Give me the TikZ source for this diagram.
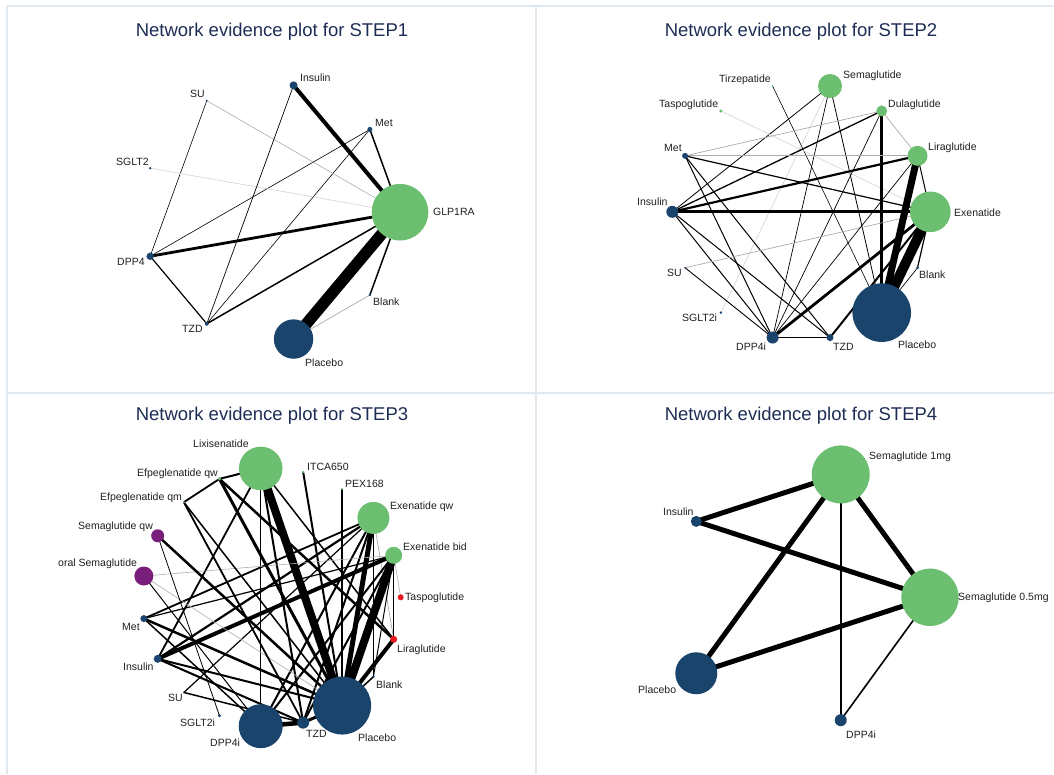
\documentclass[tikz,border=0pt]{standalone}
\usepackage{fontspec}
\setmainfont{Liberation Sans}
\pgfdeclarelayer{bg}
\pgfsetlayers{bg,main}
\definecolor{gr}{RGB}{108,190,112}
\definecolor{nv}{RGB}{27,68,108}
\definecolor{pu}{RGB}{122,30,124}
\definecolor{rd}{RGB}{232,26,30}
\definecolor{ttl}{RGB}{30,45,85}
\definecolor{frm}{RGB}{225,233,238}
\begin{document}
\begin{tikzpicture}[x=1pt,y=-1pt,
 gn/.style={circle,inner sep=0pt,fill=gr,minimum size=#1},
 bn/.style={circle,inner sep=0pt,fill=nv,minimum size=#1},
 pn/.style={circle,inner sep=0pt,fill=pu,minimum size=#1},
 rn/.style={circle,inner sep=0pt,fill=rd,minimum size=#1},
 lab/.style={font=\fontsize{10.5}{12}\selectfont,inner sep=0pt,anchor=base west,text=black!88},
 ttlstyle/.style={font=\fontsize{18.5}{22}\selectfont,text=ttl,inner sep=0pt},
 ew/.style={line width=#1pt,draw=black},
 gw/.style={line width=#1pt,draw=gray!65},
 lw/.style={line width=#1pt,draw=gray!35},
 framel/.style={draw=frm,line width=1.5pt}]
\useasboundingbox (0,0) rectangle (1054,774);
% frame
\draw[framel] (7,774) -- (7,6) -- (1054,6);
\draw[framel] (536,6) -- (536,774);
\draw[framel] (7,393) -- (1054,393);
% titles
\node[ttlstyle] (t1) at (272,32) {Network evidence plot for STEP1};
\node[ttlstyle] (t2) at (801,32) {Network evidence plot for STEP2};
\node[ttlstyle] (t3) at (272,416) {Network evidence plot for STEP3};
\node[ttlstyle] (t4) at (801,416) {Network evidence plot for STEP4};

%================ STEP1
\begin{scope}[shift={(271.2,212.2)}]
\node[gn=56.6pt] (p1glp) at (0:128.8) {};
\node[bn=2.6pt] (p1bla) at (40:128.8) {};
\node[bn=39.4pt] (p1pla) at (80:128.8) {};
\node[bn=4pt] (p1tzd) at (120:128.8) {};
\node[bn=7.4pt] (p1dpp) at (160:128.8) {};
\node[bn=2.6pt] (p1sgl) at (200:128.8) {};
\node[bn=2pt] (p1su) at (240:128.8) {};
\node[bn=8pt] (p1ins) at (280:128.8) {};
\node[bn=5pt] (p1met) at (320:128.8) {};
\end{scope}
\begin{pgfonlayer}{bg}
\draw[ew=4] (p1ins.center) -- (p1glp.center);
\draw[ew=1.5] (p1met.center) -- (p1glp.center);
\draw[ew=0.6] (p1met.center) -- (p1dpp.center);
\draw[ew=0.6] (p1met.center) -- (p1tzd.center);
\draw[ew=0.6] (p1su.center) -- (p1dpp.center);
\draw[gw=0.6] (p1su.center) -- (p1glp.center);
\draw[lw=0.6] (p1sgl.center) -- (p1glp.center);
\draw[ew=0.7] (p1ins.center) -- (p1tzd.center);
\draw[ew=2.8] (p1dpp.center) -- (p1glp.center);
\draw[ew=1.2] (p1dpp.center) -- (p1tzd.center);
\draw[ew=1.5] (p1tzd.center) -- (p1glp.center);
\draw[ew=11.5] (p1pla.center) -- (p1glp.center);
\draw[ew=1.5] (p1bla.center) -- (p1glp.center);
\draw[gw=0.7] (p1bla.center) -- (p1pla.center);
\end{pgfonlayer}
\node[lab] (l1ins) at (300,81.8) {Insulin};
\node[lab] (l1su) at (190,97.8) {SU};
\node[lab] (l1met) at (375,126.8) {Met};
\node[lab] (l1sgl) at (116,165.8) {SGLT2};
\node[lab] (l1glp) at (433,215.8) {GLP1RA};
\node[lab] (l1dpp) at (117,265.8) {DPP4};
\node[lab] (l1tzd) at (182,332.8) {TZD};
\node[lab] (l1bla) at (373,305.8) {Blank};
\node[lab] (l1pla) at (305,366.8) {Placebo};

%================ STEP2
\begin{scope}[shift={(801.3,211.8)}]
\node[gn=40.6pt] (qexe) at (0:129) {};
\node[bn=3pt] (qbla) at (25.714:129) {};
\node[bn=58.6pt] (qpla) at (51.429:129) {};
\node[bn=7pt] (qtzd) at (77.143:129) {};
\node[bn=12pt] (qdpp) at (102.857:129) {};
\node[bn=2.6pt] (qsgl) at (128.571:129) {};
\node[bn=2pt] (qsu) at (154.286:129) {};
\node[bn=12pt] (qins) at (180:129) {};
\node[bn=6pt] (qmet) at (205.714:129) {};
\node[gn=3.4pt] (qtas) at (231.429:129) {};
\node[gn=2pt] (qtir) at (257.143:129) {};
\node[gn=24pt] (qsem) at (282.857:129) {};
\node[gn=11pt] (qdul) at (308.571:129) {};
\node[gn=20pt] (qlir) at (334.286:129) {};
\end{scope}
\begin{pgfonlayer}{bg}
\draw[ew=0.8] (qsem.center) -- (qins.center);
\draw[ew=0.7] (qsem.center) -- (qdpp.center);
\draw[lw=0.6] (qsem.center) -- (qsgl.center);
\draw[ew=0.8] (qsem.center) -- (qpla.center);
\draw[ew=0.6] (qtir.center) -- (qpla.center);
\draw[lw=0.6] (qtas.center) -- (qexe.center);
\draw[gw=0.7] (qdul.center) -- (qmet.center);
\draw[ew=1.3] (qdul.center) -- (qins.center);
\draw[gw=0.7] (qdul.center) -- (qlir.center);
\draw[ew=3.5] (qdul.center) -- (qpla.center);
\draw[ew=0.7] (qdul.center) -- (qdpp.center);
\draw[gw=1.3] (qmet.center) -- (qlir.center);
\draw[ew=1.2] (qmet.center) -- (qexe.center);
\draw[ew=1] (qmet.center) -- (qdpp.center);
\draw[ew=1] (qmet.center) -- (qtzd.center);
\draw[ew=2.2] (qins.center) -- (qlir.center);
\draw[ew=3] (qins.center) -- (qexe.center);
\draw[ew=1] (qins.center) -- (qdpp.center);
\draw[ew=1] (qins.center) -- (qtzd.center);
\draw[gw=0.7] (qsu.center) -- (qexe.center);
\draw[ew=0.9] (qsu.center) -- (qdpp.center);
\draw[ew=0.7] (qdpp.center) -- (qlir.center);
\draw[ew=2.8] (qdpp.center) -- (qexe.center);
\draw[ew=1.5] (qdpp.center) -- (qtzd.center);
\draw[ew=2] (qtzd.center) -- (qexe.center);
\draw[ew=7] (qpla.center) -- (qlir.center);
\draw[ew=10] (qpla.center) -- (qexe.center);
\draw[ew=0.7] (qpla.center) -- (qbla.center);
\draw[ew=1] (qlir.center) -- (qexe.center);
\draw[ew=1.2] (qbla.center) -- (qexe.center);
\end{pgfonlayer}
\node[lab] (l2tir) at (719,82.8) {Tirzepatide};
\node[lab] (l2sem) at (843,78.8) {Semaglutide};
\node[lab] (l2tas) at (659,107.8) {Taspoglutide};
\node[lab] (l2dul) at (888,107.8) {Dulaglutide};
\node[lab] (l2met) at (664,151.8) {Met};
\node[lab] (l2lir) at (928,150.8) {Liraglutide};
\node[lab] (l2ins) at (637,205.8) {Insulin};
\node[lab] (l2exe) at (954,216.8) {Exenatide};
\node[lab] (l2su) at (667,276.8) {SU};
\node[lab] (l2bla) at (919,278.8) {Blank};
\node[lab] (l2sgl) at (682,321.8) {SGLT2i};
\node[lab] (l2dpp) at (736,350.8) {DPP4i};
\node[lab] (l2tzd) at (833,350.8) {TZD};
\node[lab] (l2pla) at (898,348.8) {Placebo};

%================ STEP3
\begin{scope}[shift={(271.4,597.3)}]
\node[rn=6pt] (rtas) at (0:129.3) {};
\node[rn=7pt] (rlir) at (18.947:129.3) {};
\node[bn=3pt] (rbla) at (37.895:129.3) {};
\node[bn=58pt] (rpla) at (56.842:129.3) {};
\node[bn=12pt] (rtzd) at (75.789:129.3) {};
\node[bn=44pt] (rdpp) at (94.737:129.3) {};
\node[bn=3.4pt] (rsgl) at (113.684:129.3) {};
\node[bn=1.6pt] (rsu) at (132.632:129.3) {};
\node[bn=8pt] (rins) at (151.579:129.3) {};
\node[bn=7pt] (rmet) at (170.526:129.3) {};
\node[pn=19pt] (rosem) at (189.474:129.3) {};
\node[pn=13pt] (rsqw) at (208.421:129.3) {};
\node[gn=2pt] (refm) at (227.368:129.3) {};
\node[gn=3.6pt] (refw) at (246.316:129.3) {};
\node[gn=43.6pt] (rlix) at (265.263:129.3) {};
\node[gn=2.6pt] (ritc) at (284.211:129.3) {};
\node[gn=2pt] (rpex) at (303.158:129.3) {};
\node[gn=32pt] (rexq) at (322.105:129.3) {};
\node[gn=17pt] (rexb) at (341.053:129.3) {};
\end{scope}
\begin{pgfonlayer}{bg}
\draw[ew=8] (rlix.center) -- (rpla.center);
\draw[ew=1] (rlix.center) -- (rdpp.center);
\draw[ew=1.8] (rlix.center) -- (rins.center);
\draw[ew=2] (rlix.center) -- (refw.center);
\draw[ew=1.5] (rlix.center) -- (rlir.center);
\draw[ew=2] (rlix.center) -- (rtzd.center);
\draw[ew=2] (ritc.center) -- (rpla.center);
\draw[ew=1.5] (rpex.center) -- (rpla.center);
\draw[ew=5] (rexq.center) -- (rpla.center);
\draw[ew=2] (rexq.center) -- (rdpp.center);
\draw[ew=2] (rexq.center) -- (rtzd.center);
\draw[ew=1.8] (rexq.center) -- (rmet.center);
\draw[ew=2.2] (rexq.center) -- (rins.center);
\draw[gw=0.7] (rexq.center) -- (rlir.center);
\draw[ew=1.2] (rexq.center) -- (rbla.center);
\draw[ew=1.2] (rexq.center) -- (rsu.center);
\draw[ew=8] (rexb.center) -- (rpla.center);
\draw[ew=4] (rexb.center) -- (rins.center);
\draw[ew=1.2] (rexb.center) -- (rmet.center);
\draw[gw=0.6] (rexb.center) -- (rosem.center);
\draw[ew=2] (rexb.center) -- (rdpp.center);
\draw[ew=2] (rexb.center) -- (rtzd.center);
\draw[ew=1.5] (rexb.center) -- (rlir.center);
\draw[gw=0.6] (rexb.center) -- (rtas.center);
\draw[ew=1] (rexb.center) -- (rbla.center);
\draw[ew=2] (rins.center) -- (rpla.center);
\draw[ew=2] (rins.center) -- (rtzd.center);
\draw[ew=2.5] (rmet.center) -- (rpla.center);
\draw[ew=1.5] (rmet.center) -- (rdpp.center);
\draw[ew=1] (rosem.center) -- (rdpp.center);
\draw[gw=0.6] (rosem.center) -- (rpla.center);
\draw[ew=2.5] (rsqw.center) -- (rpla.center);
\draw[ew=0.8] (rsqw.center) -- (rsgl.center);
\draw[ew=1.8] (refm.center) -- (refw.center);
\draw[ew=1.8] (refm.center) -- (rtzd.center);
\draw[ew=1.5] (refm.center) -- (rpla.center);
\draw[ew=3] (refw.center) -- (rpla.center);
\draw[ew=2.5] (refw.center) -- (rlir.center);
\draw[ew=1.5] (rsu.center) -- (rtzd.center);
\draw[ew=4.5] (rdpp.center) -- (rtzd.center);
\draw[ew=3] (rtzd.center) -- (rpla.center);
\draw[ew=4] (rlir.center) -- (rpla.center);
\draw[ew=1.5] (rbla.center) -- (rpla.center);
\end{pgfonlayer}
\node[lab] (l3lix) at (193,447.8) {Lixisenatide};
\node[lab] (l3itc) at (307,470.8) {ITCA650};
\node[lab] (l3pex) at (345,487.8) {PEX168};
\node[lab] (l3exq) at (390,509.8) {Exenatide qw};
\node[lab] (l3exb) at (403,550.8) {Exenatide bid};
\node[lab] (l3tas) at (405,600.8) {Taspoglutide};
\node[lab] (l3lir) at (397,652.8) {Liraglutide};
\node[lab] (l3bla) at (376,688.8) {Blank};
\node[lab] (l3pla) at (358,741.8) {Placebo};
\node[lab] (l3tzd) at (306,737.8) {TZD};
\node[lab] (l3dpp) at (210,746.8) {DPP4i};
\node[lab] (l3sgl) at (180,726.8) {SGLT2i};
\node[lab] (l3su) at (168,701.8) {SU};
\node[lab] (l3ins) at (123,670.8) {Insulin};
\node[lab] (l3met) at (122,630.8) {Met};
\node[lab] (l3osem) at (58,566.8) {oral Semaglutide};
\node[lab] (l3sqw) at (78,529.8) {Semaglutide qw};
\node[lab] (l3efm) at (100,500.8) {Efpeglenatide qm};
\node[lab] (l3efw) at (137,476.8) {Efpeglenatide qw};

%================ STEP4
\begin{scope}[shift={(800.8,597.3)}]
\node[gn=57.4pt] (s05) at (0:129.2) {};
\node[bn=12pt] (sdpp) at (72:129.2) {};
\node[bn=42pt] (spla) at (144:129.2) {};
\node[bn=11pt] (sins) at (216:129.2) {};
\node[gn=58pt] (s1) at (288:129.2) {};
\end{scope}
\begin{pgfonlayer}{bg}
\draw[ew=5] (s1.center) -- (sins.center);
\draw[ew=5] (s1.center) -- (spla.center);
\draw[ew=1.6] (s1.center) -- (sdpp.center);
\draw[ew=5] (s1.center) -- (s05.center);
\draw[ew=5] (sins.center) -- (s05.center);
\draw[ew=5] (spla.center) -- (s05.center);
\draw[ew=1.6] (s05.center) -- (sdpp.center);
\end{pgfonlayer}
\node[lab] (l4s1) at (869,459.8) {Semaglutide 1mg};
\node[lab] (l4ins) at (663,515.8) {Insulin};
\node[lab] (l4s05) at (958,600.8) {Semaglutide 0.5mg};
\node[lab] (l4pla) at (638,693.8) {Placebo};
\node[lab] (l4dpp) at (846,738.8) {DPP4i};
\end{tikzpicture}
\end{document}
